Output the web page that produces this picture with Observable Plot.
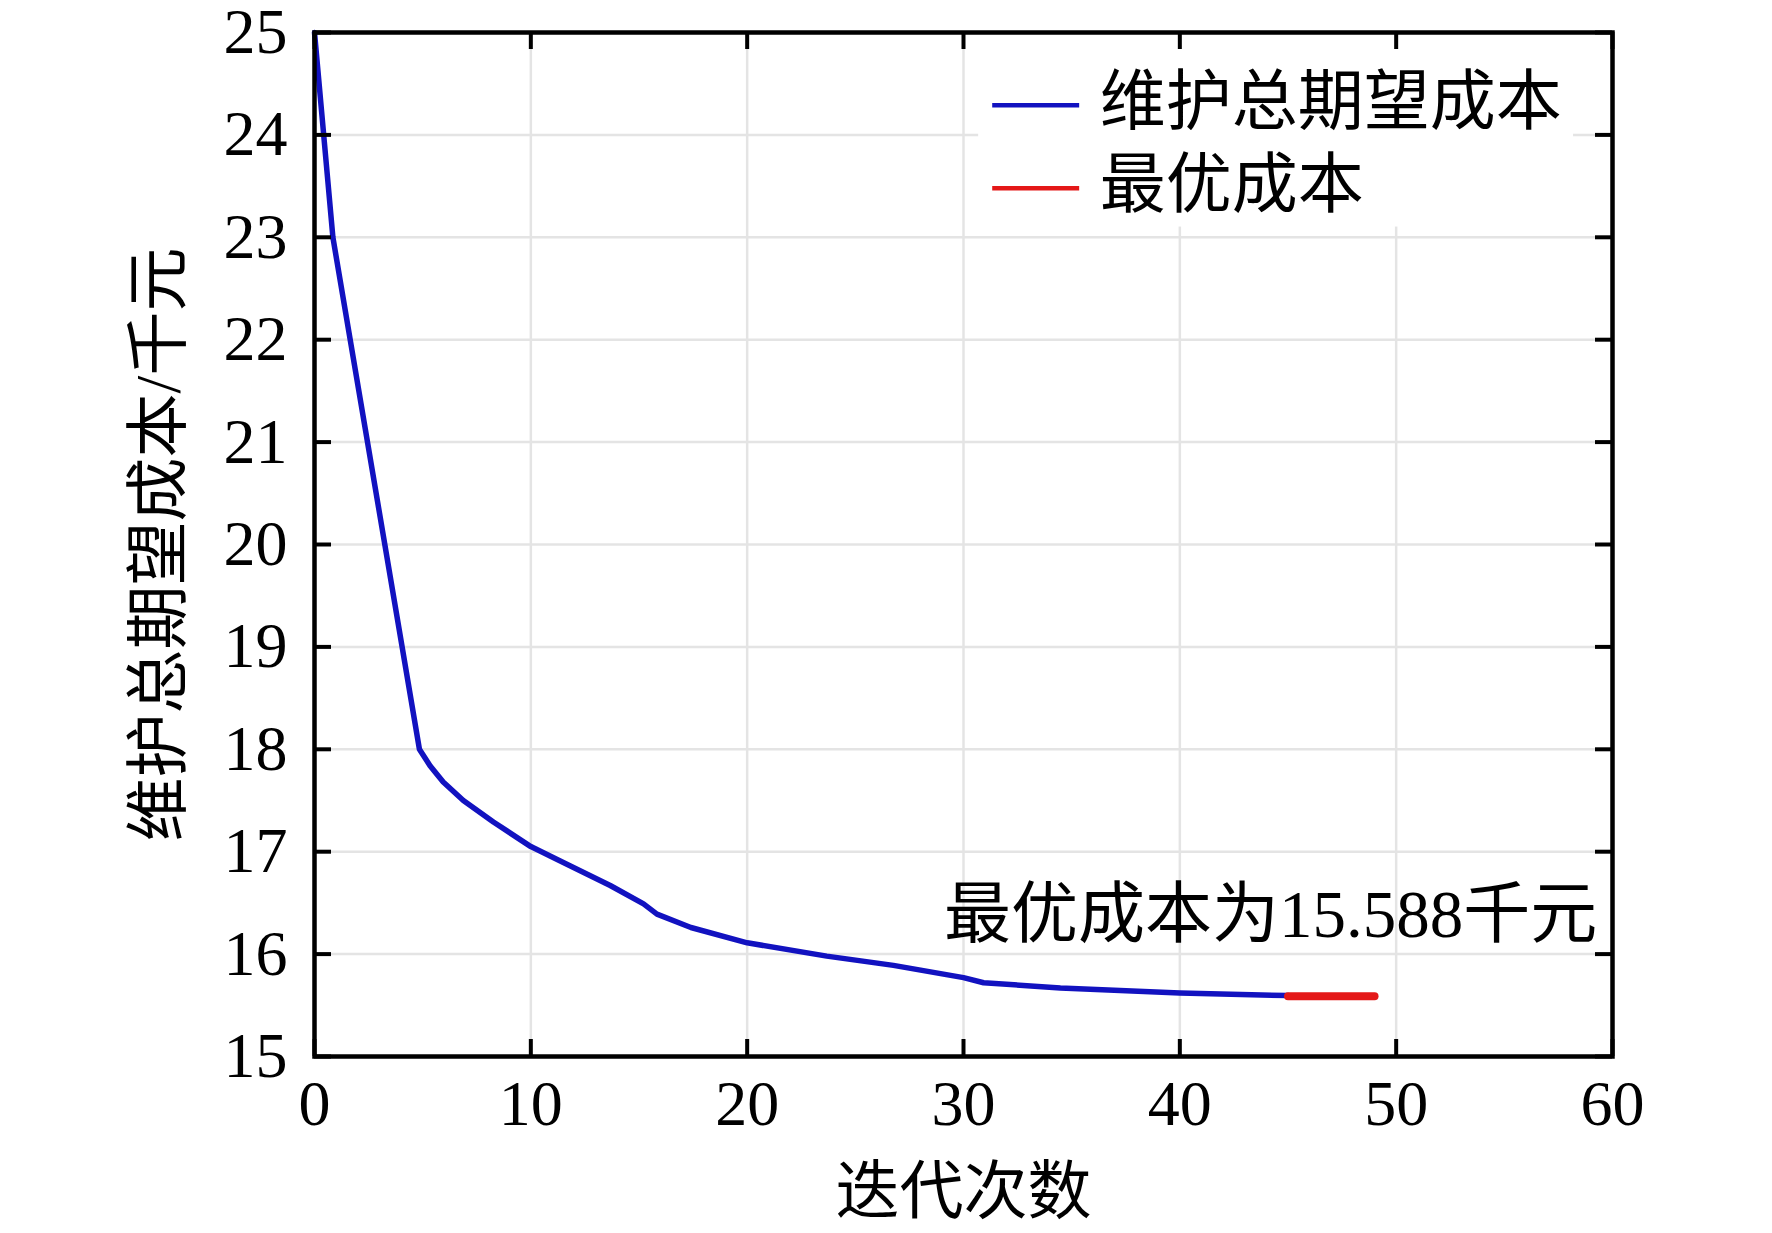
<!DOCTYPE html>
<html>
<head>
<meta charset="utf-8">
<script src="https://cdn.jsdelivr.net/npm/d3@7"></script>
<script src="https://cdn.jsdelivr.net/npm/@observablehq/plot@0.6"></script>
<style>
  html, body { margin: 0; padding: 0; background: #ffffff; }
  #chart svg { display: block; overflow: visible; }
</style>
</head>
<body>
<div id="chart"></div>
<script>
// ---- data ----
const iterations = [0, 0.85, 4.85, 5.34, 5.95, 6.88, 8.27, 10, 11.36, 13.67, 15.21, 15.83, 17.4, 20, 23.68, 26.76, 30, 30.93, 34.48, 40, 45];
const totalCost  = [25, 23.0, 18.0, 17.84, 17.68, 17.50, 17.29, 17.05, 16.91, 16.67, 16.49, 16.39, 16.26, 16.11, 15.98, 15.89, 15.77, 15.72, 15.67, 15.62, 15.595];
const optimalIterations = [45, 49];
const optimalCost = [15.588, 15.588];
const xTicks = [0, 10, 20, 30, 40, 50, 60];
const yTicks = [15, 16, 17, 18, 19, 20, 21, 22, 23, 24, 25];
const seriesNames = ["维护总期望成本", "最优成本"];
const seriesColors = ["#1212c0", "#e41818"];
const xTitle = "迭代次数";
const yTitle = "维护总期望成本/千元";
const annotation = "最优成本为15.588千元";

// ---- tables built from the arrays ----
const costLine = iterations.map((x, i) => ({x, y: totalCost[i]}));
const optLine = optimalIterations.map((x, i) => ({x, y: optimalCost[i]}));
const legendRows = seriesNames.map((name, i) => ({name, color: seriesColors[i], y: [24.29, 23.48][i]}));

const W = 1772, H = 1233;
const mL = 314, mR = 160, mT = 32, mB = 177;
const innerW = W - mL - mR, innerH = H - mT - mB;
const tickLen = 17;
const font = "'Liberation Serif', 'Noto Sans CJK SC', serif";

const chart = Plot.plot({
  width: W,
  height: H,
  marginLeft: mL,
  marginRight: mR,
  marginTop: mT,
  marginBottom: mB,
  style: {fontFamily: font, fontSize: "64px", color: "#000", background: "#fff", overflow: "visible"},
  x: {domain: [0, 60]},
  y: {domain: [15, 25]},
  marks: [
    Plot.gridX(xTicks, {stroke: "#e4e4e4", strokeOpacity: 1, strokeWidth: 2.5}),
    Plot.gridY(yTicks, {stroke: "#e4e4e4", strokeOpacity: 1, strokeWidth: 2.5}),
    // legend background
    Plot.rect([0], {x1: 30.7, x2: 58.2, y1: 23.1, y2: 25, fill: "#fff"}),
    Plot.axisX(xTicks, {tickSize: 0, tickPadding: 23, fontSize: 64, tickFormat: d => String(d), label: null}),
    Plot.axisY(yTicks, {tickSize: 0, tickPadding: 27, fontSize: 64, tickFormat: d => String(d), label: null}),
    Plot.line(costLine, {x: "x", y: "y", stroke: seriesColors[0], strokeWidth: 5.5, strokeLinejoin: "round"}),
    Plot.line(optLine, {x: "x", y: "y", stroke: seriesColors[1], strokeWidth: 8}),
    // legend
    Plot.ruleY(legendRows, {y: "y", x1: 31.35, x2: 35.37, stroke: "color", strokeWidth: 4.5}),
    Plot.text(legendRows, {y: "y", x: 36.3, text: "name", textAnchor: "start", lineAnchor: "middle", fontSize: 66, fill: "#000", dy: -2}),
    // annotation
    Plot.text([annotation], {x: 59.3, y: 16.38, text: d => d, textAnchor: "end", lineAnchor: "middle", fontSize: 67, fill: "#000"}),
    // axis titles
    Plot.text([xTitle], {frameAnchor: "bottom", dy: 136, text: d => d, lineAnchor: "middle", fontSize: 64, fill: "#000"}),
    Plot.text([yTitle], {x: -7.17, y: 20, rotate: -90, text: d => d, textAnchor: "middle", lineAnchor: "middle", fontSize: 64, fill: "#000"}),
    // inward ticks on all four sides
    Plot.tickX(xTicks, {x: d => d, insetTop: innerH - tickLen, stroke: "#000", strokeWidth: 4}),
    Plot.tickX(xTicks, {x: d => d, insetBottom: innerH - tickLen, stroke: "#000", strokeWidth: 4}),
    Plot.tickY(yTicks, {y: d => d, insetRight: innerW - tickLen, stroke: "#000", strokeWidth: 4}),
    Plot.tickY(yTicks, {y: d => d, insetLeft: innerW - tickLen, stroke: "#000", strokeWidth: 4}),
    Plot.frame({stroke: "#000", strokeWidth: 4.5})
  ]
});
document.getElementById("chart").appendChild(chart);
</script>
</body>
</html>
